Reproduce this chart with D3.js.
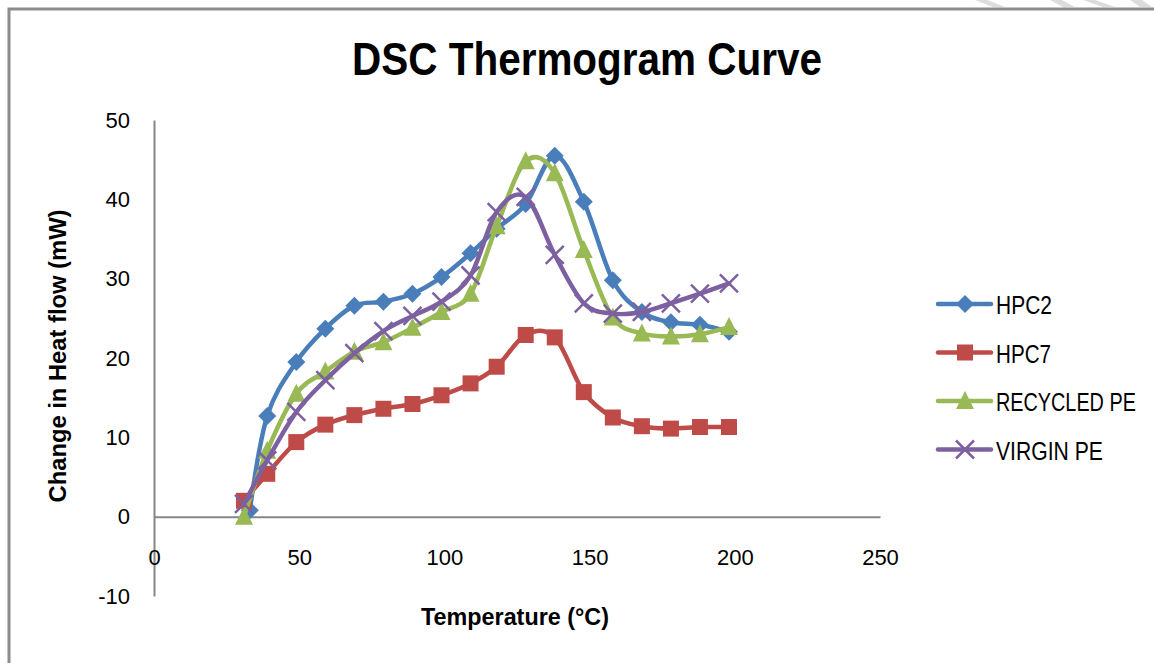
<!DOCTYPE html>
<html>
<head>
<meta charset="utf-8">
<script src="https://cdn.jsdelivr.net/npm/d3@7"></script>
<style>
  body { margin: 0; background: #fff; }
  text { font-family: "Liberation Sans", Arial, sans-serif; }
</style>
</head>
<body>
<script>
const temps = [31, 39, 49, 59, 69, 79, 89, 99, 109, 118, 128, 138, 148, 158, 168, 178, 188, 198];
const hpc2Temps = [33, 39, 49, 59, 69, 79, 89, 99, 109, 118, 128, 138, 148, 158, 168, 178, 188, 198];
const hpc2 = [0.8, 12.7, 19.5, 23.7, 26.6, 27.1, 28.1, 30.2, 33.2, 36.3, 39.4, 45.5, 39.7, 29.8, 25.8, 24.5, 24.2, 23.3];
const hpc7 = [2.0, 5.4, 9.4, 11.6, 12.8, 13.6, 14.2, 15.3, 16.8, 18.9, 22.9, 22.6, 15.7, 12.5, 11.4, 11.1, 11.3, 11.3];
const recycled = [0.0, 8.3, 15.5, 18.3, 20.8, 22.0, 23.8, 25.8, 28.1, 36.6, 44.8, 43.3, 33.6, 25.1, 23.1, 22.7, 23.0, 23.9];
const virgin = [1.6, 7.1, 13.2, 17.2, 20.6, 23.4, 25.3, 27.1, 30.4, 38.4, 40.3, 33.0, 26.9, 25.6, 25.8, 26.9, 28.1, 29.4];
const seriesNames = ["HPC2", "HPC7", "RECYCLED PE", "VIRGIN PE"];
const xTicks = [0, 50, 100, 150, 200, 250];
const yTicks = [-10, 0, 10, 20, 30, 40, 50];

const series = [
  { name: seriesNames[0], xs: hpc2Temps, ys: hpc2, color: "#4A7EBB", marker: "diamond", w: 56 },
  { name: seriesNames[1], xs: temps, ys: hpc7, color: "#BE4B48", marker: "square", w: 55 },
  { name: seriesNames[2], xs: temps, ys: recycled, color: "#98B954", marker: "triangle", w: 140 },
  { name: seriesNames[3], xs: temps, ys: virgin, color: "#7D60A0", marker: "x", w: 107 },
];

const W = 1154, H = 663;
const svg = d3.select("body").append("svg").attr("width", W).attr("height", H);

// squeeze a text horizontally to width w (the original uses a narrow face)
function narrowText(parent, tx, ty, rot, anchor, size, bold, str, w) {
  const g = parent.append("g").attr("transform", `translate(${tx},${ty}) rotate(${rot})`);
  const t = g.append("text").attr("text-anchor", anchor).attr("font-size", size)
    .attr("font-weight", bold ? "bold" : "normal").attr("fill", "#000").text(str);
  const natural = t.node().getComputedTextLength();
  t.attr("transform", `scale(${w / natural},1)`);
  return t;
}

// chart frame
svg.append("path").attr("d", "M9,663 L9,9 L1154,9")
  .attr("fill", "none").attr("stroke", "#8c8c8c").attr("stroke-width", 3);

// faint hatch marks above the frame (top right)
const hatch = [[975, 1005], [1050, 1075], [1083, 1115], [1130, 1152]];
svg.selectAll(".hatch").data(hatch).enter().append("path")
  .attr("d", d => `M${d[0]},0 L${d[0] + 12},0 L${d[1]},7 L${d[1] - 12},7 Z`)
  .attr("fill", "#dcdcdc");

const x = d3.scaleLinear().domain([0, 250]).range([154, 880]);
const y = d3.scaleLinear().domain([-10, 50]).range([596, 120]);

// axes
const yAxis = svg.append("g").attr("transform", `translate(${x(0)},0)`)
  .call(d3.axisLeft(y).tickValues(yTicks).tickSize(0).tickPadding(24).tickFormat(d => String(d)));
const xAxis = svg.append("g").attr("transform", `translate(0,${y(0)})`)
  .call(d3.axisBottom(x).tickValues(xTicks).tickSize(0).tickPadding(41).tickFormat(d => String(d)));
[xAxis, yAxis].forEach(g => {
  g.select(".domain").attr("stroke", "#868686").attr("stroke-width", 2);
  g.selectAll("text").attr("font-size", 22).attr("fill", "#000")
    .style("font-family", "'Liberation Sans', Arial, sans-serif");
});
xAxis.selectAll("text").attr("dy", "0.32em");

// title + axis titles
narrowText(svg, 587, 75, 0, "middle", 46, true, "DSC Thermogram Curve", 470);
narrowText(svg, 515, 625, 0, "middle", 23, true, "Temperature (°C)", 188);
narrowText(svg, 66, 356, -90, "middle", 23, true, "Change in Heat flow (mW)", 293);

function drawMarker(g, type, color) {
  if (type === "diamond") {
    g.append("path").attr("d", "M0,-9 L9,0 L0,9 L-9,0 Z").attr("fill", color);
  } else if (type === "square") {
    g.append("rect").attr("x", -8).attr("y", -8).attr("width", 16).attr("height", 16).attr("fill", color);
  } else if (type === "triangle") {
    g.append("path").attr("d", "M0,-10 L9,8 L-9,8 Z").attr("fill", color);
  } else {
    g.append("path").attr("d", "M-9,-9 L9,9 M-9,9 L9,-9").attr("stroke", color).attr("stroke-width", 2.5);
  }
}

const line = d3.line().curve(d3.curveCatmullRom.alpha(0)).x(d => x(d[0])).y(d => y(d[1]));

series.forEach(s => {
  const pts = s.xs.map((t, i) => [t, s.ys[i]]);
  const g = svg.append("g");
  g.append("path").datum(pts).attr("d", line)
    .attr("fill", "none").attr("stroke", s.color).attr("stroke-width", 4.5)
    .attr("stroke-linejoin", "round").attr("stroke-linecap", "round");
  g.selectAll("g").data(pts).enter().append("g")
    .attr("transform", d => `translate(${x(d[0])},${y(d[1])})`)
    .each(function () { drawMarker(d3.select(this), s.marker, s.color); });
});

// legend
const legend = svg.append("g").attr("transform", "translate(938,304)");
const items = legend.selectAll("g").data(series).enter().append("g")
  .attr("transform", (d, i) => `translate(0,${i * 48.5})`);
items.append("line").attr("x1", 0).attr("x2", 53).attr("stroke", d => d.color)
  .attr("stroke-width", 4.5).attr("stroke-linecap", "round");
items.append("g").attr("transform", "translate(27,0)")
  .each(function (d) { drawMarker(d3.select(this), d.marker, d.color); });
items.each(function (d) { narrowText(d3.select(this), 58, 10, 0, "start", 25, false, d.name, d.w); });
</script>
</body>
</html>
